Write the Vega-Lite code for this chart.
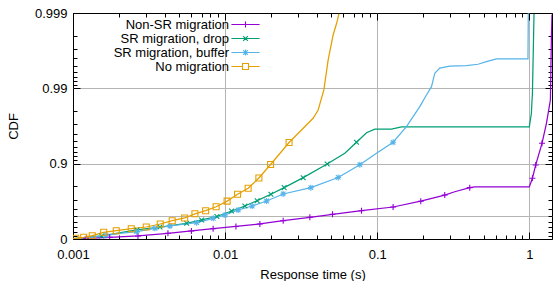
{
  "$schema": "https://vega.github.io/schema/vega-lite/v6.json",
  "width": 479,
  "height": 226,
  "autosize": {"type": "none"},
  "padding": {"left": 73, "top": 13, "right": 1, "bottom": 42},
  "background": "white",
  "config": {
    "font": "Liberation Sans",
    "view": {"stroke": "black", "strokeWidth": 1},
    "axis": {
      "domain": false,
      "labelFont": "Liberation Sans",
      "labelFontSize": 13,
      "labelColor": "black",
      "tickColor": "black",
      "tickWidth": 1,
      "titleFont": "Liberation Sans",
      "titleFontSize": 13,
      "titleFontWeight": "normal",
      "titleColor": "black",
      "gridColor": "#b4b4b4",
      "gridWidth": 1,
      "labelFlush": false,
      "labelOverlap": false,
      "labelBound": false
    },
    "legend": {
      "labelFont": "Liberation Sans",
      "labelFontSize": 13,
      "labelColor": "black"
    }
  },
  "datasets": {
    "lines": [
      {"series": "Non-SR migration", "time": 0.001, "ccdf": 0.995},
      {"series": "Non-SR migration", "time": 0.001223, "ccdf": 0.979},
      {"series": "Non-SR migration", "time": 0.001742, "ccdf": 0.949},
      {"series": "Non-SR migration", "time": 0.002674, "ccdf": 0.912},
      {"series": "Non-SR migration", "time": 0.004209, "ccdf": 0.84},
      {"series": "Non-SR migration", "time": 0.006005, "ccdf": 0.783},
      {"series": "Non-SR migration", "time": 0.008342, "ccdf": 0.73},
      {"series": "Non-SR migration", "time": 0.01178, "ccdf": 0.682},
      {"series": "Non-SR migration", "time": 0.01693, "ccdf": 0.632},
      {"series": "Non-SR migration", "time": 0.02409, "ccdf": 0.572},
      {"series": "Non-SR migration", "time": 0.03607, "ccdf": 0.515},
      {"series": "Non-SR migration", "time": 0.05085, "ccdf": 0.47},
      {"series": "Non-SR migration", "time": 0.07886, "ccdf": 0.421},
      {"series": "Non-SR migration", "time": 0.1272, "ccdf": 0.376},
      {"series": "Non-SR migration", "time": 0.1934, "ccdf": 0.315},
      {"series": "Non-SR migration", "time": 0.2781, "ccdf": 0.261},
      {"series": "Non-SR migration", "time": 0.3235, "ccdf": 0.236},
      {"series": "Non-SR migration", "time": 0.4059, "ccdf": 0.208},
      {"series": "Non-SR migration", "time": 0.4378, "ccdf": 0.204},
      {"series": "Non-SR migration", "time": 1.0, "ccdf": 0.204},
      {"series": "Non-SR migration", "time": 1.048, "ccdf": 0.156},
      {"series": "Non-SR migration", "time": 1.102, "ccdf": 0.104},
      {"series": "Non-SR migration", "time": 1.212, "ccdf": 0.0537},
      {"series": "Non-SR migration", "time": 1.296, "ccdf": 0.0291},
      {"series": "Non-SR migration", "time": 1.376, "ccdf": 0.0143},
      {"series": "Non-SR migration", "time": 1.397, "ccdf": 0.00217},
      {"series": "Non-SR migration", "time": 1.41, "ccdf": 0.00105},

      {"series": "SR migration, drop", "time": 0.001, "ccdf": 0.991},
      {"series": "SR migration, drop", "time": 0.001544, "ccdf": 0.912},
      {"series": "SR migration, drop", "time": 0.002634, "ccdf": 0.759},
      {"series": "SR migration, drop", "time": 0.00373, "ccdf": 0.693},
      {"series": "SR migration, drop", "time": 0.005585, "ccdf": 0.619},
      {"series": "SR migration, drop", "time": 0.007009, "ccdf": 0.559},
      {"series": "SR migration, drop", "time": 0.008834, "ccdf": 0.503},
      {"series": "SR migration, drop", "time": 0.01103, "ccdf": 0.425},
      {"series": "SR migration, drop", "time": 0.01349, "ccdf": 0.365},
      {"series": "SR migration, drop", "time": 0.01625, "ccdf": 0.31},
      {"series": "SR migration, drop", "time": 0.02, "ccdf": 0.255},
      {"series": "SR migration, drop", "time": 0.02445, "ccdf": 0.208},
      {"series": "SR migration, drop", "time": 0.03261, "ccdf": 0.1534},
      {"series": "SR migration, drop", "time": 0.04688, "ccdf": 0.1009},
      {"series": "SR migration, drop", "time": 0.06126, "ccdf": 0.0728},
      {"series": "SR migration, drop", "time": 0.07311, "ccdf": 0.052},
      {"series": "SR migration, drop", "time": 0.08505, "ccdf": 0.0388},
      {"series": "SR migration, drop", "time": 0.09643, "ccdf": 0.0349},
      {"series": "SR migration, drop", "time": 0.1242, "ccdf": 0.0349},
      {"series": "SR migration, drop", "time": 0.1444, "ccdf": 0.0326},
      {"series": "SR migration, drop", "time": 1.0, "ccdf": 0.0326},
      {"series": "SR migration, drop", "time": 1.032, "ccdf": 0.0214},
      {"series": "SR migration, drop", "time": 1.042, "ccdf": 0.01426},
      {"series": "SR migration, drop", "time": 1.048, "ccdf": 0.01224},
      {"series": "SR migration, drop", "time": 1.074, "ccdf": 0.00103},

      {"series": "SR migration, buffer", "time": 0.001, "ccdf": 0.995},
      {"series": "SR migration, buffer", "time": 0.001293, "ccdf": 0.955},
      {"series": "SR migration, buffer", "time": 0.001647, "ccdf": 0.893},
      {"series": "SR migration, buffer", "time": 0.002036, "ccdf": 0.84},
      {"series": "SR migration, buffer", "time": 0.002621, "ccdf": 0.8},
      {"series": "SR migration, buffer", "time": 0.003458, "ccdf": 0.721},
      {"series": "SR migration, buffer", "time": 0.004339, "ccdf": 0.672},
      {"series": "SR migration, buffer", "time": 0.006498, "ccdf": 0.607},
      {"series": "SR migration, buffer", "time": 0.008354, "ccdf": 0.531},
      {"series": "SR migration, buffer", "time": 0.00997, "ccdf": 0.48},
      {"series": "SR migration, buffer", "time": 0.01219, "ccdf": 0.412},
      {"series": "SR migration, buffer", "time": 0.01507, "ccdf": 0.365},
      {"series": "SR migration, buffer", "time": 0.01874, "ccdf": 0.313},
      {"series": "SR migration, buffer", "time": 0.02408, "ccdf": 0.2526},
      {"series": "SR migration, buffer", "time": 0.03662, "ccdf": 0.2083},
      {"series": "SR migration, buffer", "time": 0.05537, "ccdf": 0.1525},
      {"series": "SR migration, buffer", "time": 0.07687, "ccdf": 0.1031},
      {"series": "SR migration, buffer", "time": 0.09895, "ccdf": 0.0728},
      {"series": "SR migration, buffer", "time": 0.1272, "ccdf": 0.052},
      {"series": "SR migration, buffer", "time": 0.1558, "ccdf": 0.0323},
      {"series": "SR migration, buffer", "time": 0.1905, "ccdf": 0.0175},
      {"series": "SR migration, buffer", "time": 0.2108, "ccdf": 0.01224},
      {"series": "SR migration, buffer", "time": 0.2275, "ccdf": 0.0095},
      {"series": "SR migration, buffer", "time": 0.2391, "ccdf": 0.0063},
      {"series": "SR migration, buffer", "time": 0.2578, "ccdf": 0.0054},
      {"series": "SR migration, buffer", "time": 0.2999, "ccdf": 0.00509},
      {"series": "SR migration, buffer", "time": 0.3862, "ccdf": 0.005},
      {"series": "SR migration, buffer", "time": 0.4603, "ccdf": 0.00479},
      {"series": "SR migration, buffer", "time": 0.5225, "ccdf": 0.00442},
      {"series": "SR migration, buffer", "time": 0.6079, "ccdf": 0.00407},
      {"series": "SR migration, buffer", "time": 0.98, "ccdf": 0.00407},
      {"series": "SR migration, buffer", "time": 0.985, "ccdf": 0.00101},

      {"series": "No migration", "time": 0.001, "ccdf": 0.99},
      {"series": "No migration", "time": 0.001042, "ccdf": 0.979},
      {"series": "No migration", "time": 0.001176, "ccdf": 0.949},
      {"series": "No migration", "time": 0.001339, "ccdf": 0.904},
      {"series": "No migration", "time": 0.001591, "ccdf": 0.815},
      {"series": "No migration", "time": 0.001925, "ccdf": 0.776},
      {"series": "No migration", "time": 0.002416, "ccdf": 0.73},
      {"series": "No migration", "time": 0.003031, "ccdf": 0.693},
      {"series": "No migration", "time": 0.003747, "ccdf": 0.632},
      {"series": "No migration", "time": 0.004491, "ccdf": 0.572},
      {"series": "No migration", "time": 0.00542, "ccdf": 0.526},
      {"series": "No migration", "time": 0.006333, "ccdf": 0.463},
      {"series": "No migration", "time": 0.007446, "ccdf": 0.421},
      {"series": "No migration", "time": 0.008728, "ccdf": 0.373},
      {"series": "No migration", "time": 0.01031, "ccdf": 0.314},
      {"series": "No migration", "time": 0.01208, "ccdf": 0.255},
      {"series": "No migration", "time": 0.01418, "ccdf": 0.212},
      {"series": "No migration", "time": 0.01668, "ccdf": 0.155},
      {"series": "No migration", "time": 0.01991, "ccdf": 0.1026},
      {"series": "No migration", "time": 0.02634, "ccdf": 0.0524},
      {"series": "No migration", "time": 0.0379, "ccdf": 0.025},
      {"series": "No migration", "time": 0.0409, "ccdf": 0.0194},
      {"series": "No migration", "time": 0.0446, "ccdf": 0.0105},
      {"series": "No migration", "time": 0.0476, "ccdf": 0.0042},
      {"series": "No migration", "time": 0.0513, "ccdf": 0.00196},
      {"series": "No migration", "time": 0.0541, "ccdf": 0.00137},
      {"series": "No migration", "time": 0.056, "ccdf": 0.00103}
    ],
    "markers": [
      {"series": "Non-SR migration", "time": 0.001223, "ccdf": 0.979},
      {"series": "Non-SR migration", "time": 0.001742, "ccdf": 0.949},
      {"series": "Non-SR migration", "time": 0.002674, "ccdf": 0.912},
      {"series": "Non-SR migration", "time": 0.004209, "ccdf": 0.84},
      {"series": "Non-SR migration", "time": 0.006005, "ccdf": 0.783},
      {"series": "Non-SR migration", "time": 0.008342, "ccdf": 0.73},
      {"series": "Non-SR migration", "time": 0.01178, "ccdf": 0.682},
      {"series": "Non-SR migration", "time": 0.01693, "ccdf": 0.632},
      {"series": "Non-SR migration", "time": 0.02409, "ccdf": 0.572},
      {"series": "Non-SR migration", "time": 0.03607, "ccdf": 0.515},
      {"series": "Non-SR migration", "time": 0.05085, "ccdf": 0.47},
      {"series": "Non-SR migration", "time": 0.07886, "ccdf": 0.421},
      {"series": "Non-SR migration", "time": 0.1272, "ccdf": 0.376},
      {"series": "Non-SR migration", "time": 0.1934, "ccdf": 0.315},
      {"series": "Non-SR migration", "time": 0.2781, "ccdf": 0.261},
      {"series": "Non-SR migration", "time": 0.4059, "ccdf": 0.208},
      {"series": "Non-SR migration", "time": 1.048, "ccdf": 0.156},
      {"series": "Non-SR migration", "time": 1.102, "ccdf": 0.104},
      {"series": "Non-SR migration", "time": 1.212, "ccdf": 0.0537},

      {"series": "SR migration, drop", "time": 0.001544, "ccdf": 0.912},
      {"series": "SR migration, drop", "time": 0.002634, "ccdf": 0.759},
      {"series": "SR migration, drop", "time": 0.00373, "ccdf": 0.693},
      {"series": "SR migration, drop", "time": 0.005585, "ccdf": 0.619},
      {"series": "SR migration, drop", "time": 0.007009, "ccdf": 0.559},
      {"series": "SR migration, drop", "time": 0.008834, "ccdf": 0.503},
      {"series": "SR migration, drop", "time": 0.01103, "ccdf": 0.425},
      {"series": "SR migration, drop", "time": 0.01349, "ccdf": 0.365},
      {"series": "SR migration, drop", "time": 0.01625, "ccdf": 0.31},
      {"series": "SR migration, drop", "time": 0.02, "ccdf": 0.255},
      {"series": "SR migration, drop", "time": 0.02445, "ccdf": 0.208},
      {"series": "SR migration, drop", "time": 0.03261, "ccdf": 0.1534},
      {"series": "SR migration, drop", "time": 0.04688, "ccdf": 0.1009},
      {"series": "SR migration, drop", "time": 0.07311, "ccdf": 0.052},

      {"series": "SR migration, buffer", "time": 0.001647, "ccdf": 0.893},
      {"series": "SR migration, buffer", "time": 0.002621, "ccdf": 0.8},
      {"series": "SR migration, buffer", "time": 0.003458, "ccdf": 0.721},
      {"series": "SR migration, buffer", "time": 0.004339, "ccdf": 0.672},
      {"series": "SR migration, buffer", "time": 0.006498, "ccdf": 0.607},
      {"series": "SR migration, buffer", "time": 0.008354, "ccdf": 0.531},
      {"series": "SR migration, buffer", "time": 0.00997, "ccdf": 0.48},
      {"series": "SR migration, buffer", "time": 0.01219, "ccdf": 0.412},
      {"series": "SR migration, buffer", "time": 0.01507, "ccdf": 0.365},
      {"series": "SR migration, buffer", "time": 0.01874, "ccdf": 0.313},
      {"series": "SR migration, buffer", "time": 0.02408, "ccdf": 0.2526},
      {"series": "SR migration, buffer", "time": 0.03662, "ccdf": 0.2083},
      {"series": "SR migration, buffer", "time": 0.05537, "ccdf": 0.1525},
      {"series": "SR migration, buffer", "time": 0.07687, "ccdf": 0.1031},
      {"series": "SR migration, buffer", "time": 0.1272, "ccdf": 0.052},

      {"series": "No migration", "time": 0.001042, "ccdf": 0.979},
      {"series": "No migration", "time": 0.001176, "ccdf": 0.949},
      {"series": "No migration", "time": 0.001339, "ccdf": 0.904},
      {"series": "No migration", "time": 0.001591, "ccdf": 0.815},
      {"series": "No migration", "time": 0.001925, "ccdf": 0.776},
      {"series": "No migration", "time": 0.002416, "ccdf": 0.73},
      {"series": "No migration", "time": 0.003031, "ccdf": 0.693},
      {"series": "No migration", "time": 0.003747, "ccdf": 0.632},
      {"series": "No migration", "time": 0.004491, "ccdf": 0.572},
      {"series": "No migration", "time": 0.00542, "ccdf": 0.526},
      {"series": "No migration", "time": 0.006333, "ccdf": 0.463},
      {"series": "No migration", "time": 0.007446, "ccdf": 0.421},
      {"series": "No migration", "time": 0.008728, "ccdf": 0.373},
      {"series": "No migration", "time": 0.01031, "ccdf": 0.314},
      {"series": "No migration", "time": 0.01208, "ccdf": 0.255},
      {"series": "No migration", "time": 0.01418, "ccdf": 0.212},
      {"series": "No migration", "time": 0.01668, "ccdf": 0.155},
      {"series": "No migration", "time": 0.01991, "ccdf": 0.1026},
      {"series": "No migration", "time": 0.02634, "ccdf": 0.0524}
    ]
  },
  "layer": [
    {
      "data": {"name": "lines"},
      "mark": {"type": "line", "strokeWidth": 1.25, "clip": true},
      "encoding": {
        "x": {"field": "time", "type": "quantitative", "scale": {"type": "log", "domain": [0.001, 1.41]},
          "axis": {"orient": "bottom", "values": [0.001, 0.01, 0.1, 1], "format": "~g", "title": "Response time (s)", "titlePadding": 7, "grid": true, "ticks": false,
            "gridOpacity": {"condition": {"test": "datum.value <= 0.001", "value": 0}, "value": 1}, "labelPadding": 9.5}},
        "y": {"field": "ccdf", "type": "quantitative", "scale": {"type": "log", "domain": [0.001, 1], "reverse": true},
          "axis": {"orient": "left", "values": [1, 0.5, 0.1, 0.01, 0.001],
            "labelExpr": "datum.value > 0.99 ? '0' : (datum.value == 0.5 ? '' : format(1 - datum.value, '.3~f'))",
            "title": "CDF", "titlePadding": 14, "grid": true, "ticks": false,
            "gridOpacity": {"condition": {"test": "datum.value > 0.99 || datum.value <= 0.001", "value": 0}, "value": 1},
            "labelPadding": 6}},
        "color": {"field": "series", "type": "nominal",
          "scale": {"domain": ["No migration", "Non-SR migration", "SR migration, buffer", "SR migration, drop"], "range": ["#E69F00", "#9400D3", "#56B4E9", "#009E73"]},
          "legend": null}
      }
    },
    {
      "data": {"name": "markers"},
      "transform": [{"filter": "datum.series == 'Non-SR migration'"}],
      "mark": {"type": "point", "shape": "M-1,0H1M0,-1V1", "size": 36, "filled": false, "strokeWidth": 1.1, "color": "#9400D3", "opacity": 1, "clip": true},
      "encoding": {
        "x": {"field": "time", "type": "quantitative", "scale": {"type": "log", "domain": [0.001, 1.41]},
          "axis": {"orient": "bottom", "values": [0.002, 0.003, 0.004, 0.005, 0.006, 0.007, 0.008, 0.009, 0.02, 0.03, 0.04, 0.05, 0.06, 0.07, 0.08, 0.09, 0.2, 0.3, 0.4, 0.5, 0.6, 0.7, 0.8, 0.9], "labels": false, "title": null, "grid": false, "tickSize": -4}},
        "y": {"field": "ccdf", "type": "quantitative", "scale": {"type": "log", "domain": [0.001, 1], "reverse": true},
          "axis": {"orient": "left", "values": [0.9, 0.8, 0.7, 0.6, 0.5, 0.4, 0.3, 0.2, 0.09, 0.08, 0.07, 0.06, 0.05, 0.04, 0.03, 0.02, 0.009, 0.008, 0.007, 0.006, 0.005, 0.004, 0.003, 0.002], "labels": false, "title": null, "grid": false, "tickSize": -4}}
      }
    },
    {
      "data": {"name": "markers"},
      "transform": [{"filter": "datum.series == 'SR migration, drop'"}],
      "mark": {"type": "point", "shape": "M-0.8,-0.8L0.8,0.8M-0.8,0.8L0.8,-0.8", "size": 36, "filled": false, "strokeWidth": 1.1, "color": "#009E73", "opacity": 1, "clip": true},
      "encoding": {
        "x": {"field": "time", "type": "quantitative", "scale": {"type": "log", "domain": [0.001, 1.41]},
          "axis": {"orient": "top", "values": [0.002, 0.003, 0.004, 0.005, 0.006, 0.007, 0.008, 0.009, 0.02, 0.03, 0.04, 0.05, 0.06, 0.07, 0.08, 0.09, 0.2, 0.3, 0.4, 0.5, 0.6, 0.7, 0.8, 0.9], "labels": false, "title": null, "grid": false, "tickSize": -4}},
        "y": {"field": "ccdf", "type": "quantitative", "scale": {"type": "log", "domain": [0.001, 1], "reverse": true},
          "axis": {"orient": "right", "values": [0.9, 0.8, 0.7, 0.6, 0.5, 0.4, 0.3, 0.2, 0.09, 0.08, 0.07, 0.06, 0.05, 0.04, 0.03, 0.02, 0.009, 0.008, 0.007, 0.006, 0.005, 0.004, 0.003, 0.002], "labels": false, "title": null, "grid": false, "tickSize": -4}}
      }
    },
    {
      "data": {"name": "markers"},
      "transform": [{"filter": "datum.series == 'SR migration, buffer'"}],
      "mark": {"type": "point", "shape": "M-1,0H1M0,-1V1M-0.75,-0.75L0.75,0.75M-0.75,0.75L0.75,-0.75", "size": 36, "filled": false, "strokeWidth": 1.1, "color": "#56B4E9", "opacity": 1, "clip": true},
      "encoding": {
        "x": {"field": "time", "type": "quantitative", "scale": {"type": "log", "domain": [0.001, 1.41]},
          "axis": {"orient": "bottom", "values": [0.001, 0.01, 0.1, 1], "labels": false, "title": null, "grid": false, "tickSize": -7}},
        "y": {"field": "ccdf", "type": "quantitative", "scale": {"type": "log", "domain": [0.001, 1], "reverse": true},
          "axis": {"orient": "left", "values": [1, 0.1, 0.01, 0.001], "labels": false, "title": null, "grid": false, "tickSize": -7}}
      }
    },
    {
      "data": {"name": "markers"},
      "transform": [{"filter": "datum.series == 'No migration'"}],
      "mark": {"type": "point", "shape": "M-1,-1H1V1H-1Z", "size": 36, "filled": false, "strokeWidth": 1.1, "color": "#E69F00", "opacity": 1, "clip": true},
      "encoding": {
        "x": {"field": "time", "type": "quantitative", "scale": {"type": "log", "domain": [0.001, 1.41]}, "axis": null},
        "y": {"field": "ccdf", "type": "quantitative", "scale": {"type": "log", "domain": [0.001, 1], "reverse": true}, "axis": null}
      }
    },
    {
      "data": {"name": "markers"},
      "mark": {"type": "point", "size": 36, "filled": false, "strokeWidth": 1.1, "opacity": 0},
      "encoding": {
        "x": {"field": "time", "type": "quantitative", "scale": {"type": "log", "domain": [0.001, 1.41]},
          "axis": {"orient": "top", "values": [0.001, 0.01, 0.1, 1], "labels": false, "title": null, "grid": false, "tickSize": -7}},
        "y": {"field": "ccdf", "type": "quantitative", "scale": {"type": "log", "domain": [0.001, 1], "reverse": true},
          "axis": {"orient": "right", "values": [1, 0.1, 0.01, 0.001], "labels": false, "title": null, "grid": false, "tickSize": -7}},
        "stroke": {"field": "series", "type": "nominal",
          "scale": {"domain": ["Non-SR migration", "SR migration, drop", "SR migration, buffer", "No migration"], "range": ["#9400D3", "#009E73", "#56B4E9", "#E69F00"]},
          "legend": {"orient": "none", "legendX": 166, "legendY": 5, "title": null, "labelAlign": "right", "labelOffset": -23, "rowPadding": -3, "padding": 0, "symbolStrokeWidth": 1.1, "symbolSize": 36, "symbolOpacity": 1}},
        "shape": {"field": "series", "type": "nominal",
          "scale": {"domain": ["Non-SR migration", "SR migration, drop", "SR migration, buffer", "No migration"],
            "range": ["M-4.7,0H4.7M0,-1V1", "M-4.7,0H4.7M-0.8,-0.8L0.8,0.8M-0.8,0.8L0.8,-0.8", "M-4.7,0H4.7M0,-1V1M-0.75,-0.75L0.75,0.75M-0.75,0.75L0.75,-0.75", "M-4.7,0H-1M1,0H4.7M-1,-1H1V1H-1Z"]},
          "legend": {"orient": "none", "legendX": 166, "legendY": 5, "title": null, "labelAlign": "right", "labelOffset": -23, "rowPadding": -3, "padding": 0, "symbolStrokeWidth": 1.1, "symbolSize": 36, "symbolOpacity": 1}}
      }
    }
  ],
  "resolve": {"axis": {"x": "independent", "y": "independent"}}
}
